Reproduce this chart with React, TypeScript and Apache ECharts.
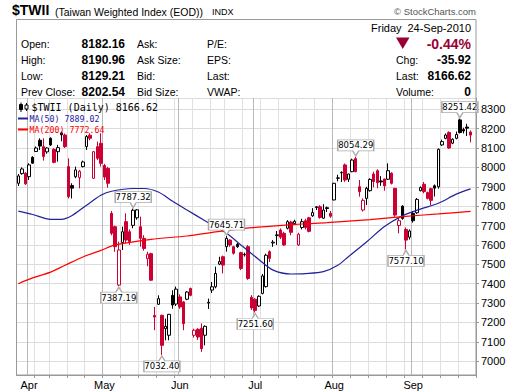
import React, { useEffect, useRef } from "react";
import * as echarts from "echarts";

// ---------- categories (trading days, Taiwan 2010) ----------
const HOLIDAYS = ["2010-04-05", "2010-06-16", "2010-09-22"];
function buildDates(): string[] {
  const out: string[] = [];
  const d = new Date(Date.UTC(2010, 2, 29));
  const end = Date.UTC(2010, 8, 24);
  while (d.getTime() <= end) {
    const wd = d.getUTCDay();
    const s = d.toISOString().slice(0, 10);
    if (wd !== 0 && wd !== 6 && !HOLIDAYS.includes(s)) out.push(s);
    d.setUTCDate(d.getUTCDate() + 1);
  }
  return out;
}
const dates = buildDates();
const categories = [...dates, ""];
const MONTHS = ["Jan", "Feb", "Mar", "Apr", "May", "Jun", "Jul", "Aug", "Sep", "Oct", "Nov", "Dec"];

// ---------- OHLC ----------
const opens = [
  7918, 7968, 7970, 7952, 8052, 8082, 8140, 8107, 8080, 8150, 8093, 8081, 8178, 8167, 8004, 7906, 7952, 7947, 8004, 8107,
  8166, 7944, 8107, 8124, 8010, 7995, 7763, 7694, 7393, 7612, 7720, 7668, 7701, 7740, 7694, 7634, 7529, 7555, 7236, 7294,
  7237, 7168, 7134, 7340, 7295, 7332, 7306, 7320, 7375, 7134, 7165, 7170, 7134, 7300, 7367, 7384, 7501, 7539, 7591, 7625,
  7591, 7603, 7560, 7549, 7591, 7330, 7320, 7285, 7350, 7385, 7565, 7610, 7648, 7677, 7660, 7686, 7718, 7710, 7600, 7690,
  7725, 7740, 7750, 7793, 7797, 7738, 7792, 7763, 7832, 7944, 7972, 8013, 7939, 7978, 8045, 7900, 7780, 7840, 7880, 7966,
  7983, 7930, 7940, 7939, 7970, 7892, 7700, 7800, 7680, 7640, 7763, 7766, 7880, 7913, 7870, 7890, 7905, 7900, 8116, 8150,
  8180, 8125, 8150, 8245, 8195, 8208, 8182.16,
];
const highs = [
  7966, 8000, 7975, 8021, 8058, 8108, 8150, 8150, 8105, 8155, 8099, 8116, 8185, 8175, 8047, 7918, 8004, 7987, 8035, 8167,
  8176, 8085, 8133, 8176, 8018, 8003, 7775, 7700, 7617, 7694, 7763, 7680, 7787.32, 7785, 7746, 7650, 7565, 7560, 7280, 7340,
  7240, 7220, 7244, 7366, 7385, 7345, 7310, 7362, 7380, 7168, 7170, 7195, 7185, 7323, 7409, 7488, 7539, 7545, 7645.71, 7630,
  7595, 7610, 7565, 7560, 7600, 7341, 7325, 7340, 7450, 7555, 7572, 7625, 7672, 7685, 7668, 7728, 7725, 7730, 7663, 7735,
  7735, 7745, 7790, 7800, 7805, 7810, 7798, 7775, 7920, 7962, 7980, 8020, 7968, 8045, 8054.29, 7935, 7840, 7900, 7944, 7978,
  7990, 7955, 7942, 8021, 7975, 7895, 7740, 7805, 7690, 7680, 7775, 7842, 7902, 7925, 7875, 7895, 7912, 8098, 8143, 8175,
  8186, 8150, 8185, 8251.42, 8205, 8225, 8190.96,
];
const lows = [
  7904, 7962, 7910, 7935, 8018, 8080, 8090, 8035, 8070, 8110, 8021, 8030, 8135, 8100, 7840, 7840, 7944, 7892, 8000, 8090,
  8140, 7940, 8038, 8004, 7935, 7895, 7650, 7565, 7387.19, 7574, 7608, 7600, 7686, 7730, 7591, 7570, 7490, 7415, 7160, 7290,
  7032.4, 7108, 7108, 7271, 7285, 7270, 7160, 7315, 7335, 7122, 7110, 7048, 7082, 7270, 7352, 7376, 7496, 7453, 7565, 7590,
  7550, 7585, 7470, 7540, 7420, 7265, 7251.6, 7280, 7345, 7380, 7512, 7590, 7600, 7630, 7595, 7680, 7650, 7705, 7595, 7680,
  7680, 7665, 7745, 7780, 7735, 7735, 7770, 7740, 7830, 7928, 7925, 7925, 7925, 7975, 7975, 7849, 7772, 7806, 7875, 7897,
  7892, 7905, 7880, 7935, 7912, 7745, 7660, 7730, 7577.1, 7628, 7715, 7760, 7876, 7866, 7835, 7805, 7850, 7890, 8110, 8145,
  8095, 8120, 8145, 8175, 8175, 8162, 8129.21,
];
const closes = [
  7956, 7992, 7915, 8013, 8022, 8100, 8110, 8056, 8100, 8116, 8026, 8102, 8168, 8107, 7849, 7893, 7987, 7980, 8028, 8159,
  8150, 8081, 8047, 8021, 7950, 7918, 7660, 7591, 7574, 7668, 7625, 7617, 7779, 7781, 7634, 7582, 7552, 7418, 7228, 7323,
  7082, 7180, 7242, 7290, 7372, 7280, 7194, 7357, 7340, 7160, 7125, 7065, 7180, 7304, 7384, 7453, 7514, 7496, 7634, 7600,
  7557, 7591, 7479, 7551, 7427, 7275, 7262, 7335, 7440, 7547, 7531, 7614, 7652, 7640, 7600, 7720, 7665, 7722, 7655, 7720,
  7690, 7670, 7767, 7797, 7742, 7780, 7788, 7748, 7918, 7946, 7974, 7935, 7966, 8038, 7978, 7875, 7830, 7892, 7938, 7927,
  7921, 7925, 7905, 7983, 7918, 7754, 7725, 7737, 7625, 7672, 7725, 7835, 7896, 7875, 7840, 7830, 7893, 8093, 8133, 8167,
  8100, 8145, 8170, 8180, 8188, 8202.54, 8166.62,
];

// moving averages read at sample days: [day index, value]
const ma50Points: [number, number][] = [
  [0, 7774], [4, 7757], [9, 7732], [12, 7732], [15, 7752], [19, 7805], [23, 7856], [26, 7877], [32, 7891], [35, 7891],
  [39, 7873], [43, 7825], [47, 7780], [52, 7725], [58, 7660], [62, 7600], [67, 7525], [71, 7470], [76, 7450], [80, 7452],
  [85, 7462], [89, 7495], [92, 7540], [97, 7615], [102, 7695], [107, 7750], [112, 7785], [117, 7815], [122, 7862], [126, 7889.02],
];
const ma200Points: [number, number][] = [
  [0, 7400], [4, 7430], [9, 7460], [13, 7495], [18, 7538], [23, 7572], [27, 7600], [37, 7629], [47, 7646], [55, 7667],
  [63, 7685], [68, 7693], [79, 7708], [86, 7715], [98, 7731], [107, 7746], [117, 7760], [126, 7772.64],
];

const highMarks = [
  { i: 32, v: 7787.32 }, { i: 58, v: 7645.71 }, { i: 94, v: 8054.29 }, { i: 123, v: 8251.42 },
];
const lowMarks = [
  { i: 28, v: 7387.19 }, { i: 40, v: 7032.4 }, { i: 66, v: 7251.6 }, { i: 108, v: 7577.1 },
];

const yTicks = [7000, 7100, 7200, 7300, 7400, 7500, 7600, 7700, 7800, 7900, 8000, 8100, 8200, 8300];

const RED = "#cc0033";
const BLACK = "#000000";
const DARK_RED = "#990033";
const MA50_COLOR = "#22229a";
const MA200_COLOR = "#ff0000";
const SANS = "Liberation Sans, Arial, sans-serif";
const MONO = "DejaVu Sans Mono, monospace";

const isMonthStart = (i: number) =>
  i > 0 && i < dates.length && dates[i].slice(5, 7) !== dates[i - 1].slice(5, 7);
const weekday = (s: string) => new Date(s + "T00:00:00Z").getUTCDay();
const isWeekStart = (i: number) =>
  i > 0 && i < dates.length && weekday(dates[i]) < weekday(dates[i - 1]);

function sparse(points: [number, number][]): (number | null)[] {
  const arr: (number | null)[] = dates.map(() => null);
  points.forEach(([i, v]) => (arr[i] = v));
  return arr;
}

const HIGH_PATH = "path://M0,0L36,0L36,11L21,11L18,16L15,11L0,11Z";
const LOW_PATH = "path://M0,5L15,5L18,0L21,5L36,5L36,16L0,16Z";

function txt(text: string, x: number, y: number, opts: any = {}) {
  return {
    type: "text",
    x,
    y,
    silent: true,
    z: 50,
    style: {
      text,
      fill: opts.fill || "#000",
      fontSize: opts.fontSize || 10.5,
      fontFamily: opts.fontFamily || SANS,
      fontWeight: opts.fontWeight || "normal",
      align: opts.align || "left",
      verticalAlign: "middle",
    },
  };
}

export default function App() {
  const ref = useRef<HTMLDivElement>(null);
  useEffect(() => {
    if (!ref.current) return;
    const chart = echarts.init(ref.current, null, { renderer: "svg" });

    const candleData = dates.map((_, i) => {
      const o = opens[i];
      const c = closes[i];
      const prev = i > 0 ? closes[i - 1] : o;
      const col = c < prev ? RED : BLACK;
      const hollow = c > o;
      const fill = hollow ? "#ffffff" : col;
      return {
        value: [o, c, lows[i], highs[i]],
        itemStyle: { color: fill, color0: fill, borderColor: col, borderColor0: col, borderWidth: 1 },
      };
    });

    const markData: any[] = [
      ...highMarks.map((m) => ({
        coord: [categories[m.i], m.v],
        value: m.v,
        symbol: HIGH_PATH,
        symbolSize: [36, 16],
        symbolOffset: [0, -9],
        label: { offset: [0, -2.5] },
      })),
      ...lowMarks.map((m) => ({
        coord: [categories[m.i], m.v],
        value: m.v,
        symbol: LOW_PATH,
        symbolSize: [36, 16],
        symbolOffset: [0, 9],
        label: { offset: [0, 2.5] },
      })),
    ];

    const header: any[] = [
      txt("$TWII", 12, 10, { fontSize: 14, fontWeight: "bold" }),
      txt("(Taiwan Weighted Index (EOD))", 55, 11.5, { fontSize: 10.5 }),
      txt("INDX", 212, 11.5, { fontSize: 9 }),
      txt("\u00a9 StockCharts.com", 476, 11.5, { fontSize: 9.5, fill: "#555", align: "right" }),
      txt("Friday", 371, 28, { fontSize: 11 }),
      txt("24-Sep-2010", 471, 28, { fontSize: 11, align: "right" }),
      {
        type: "polygon",
        silent: true,
        z: 50,
        shape: { points: [[396, 37.5], [409.5, 37.5], [402.75, 49]] },
        style: { fill: DARK_RED },
      },
      txt("-0.44%", 471, 43.5, { fontSize: 14, fontWeight: "bold", fill: DARK_RED, align: "right" }),
      txt("Open:", 21, 43.5),
      txt("High:", 21, 60),
      txt("Low:", 21, 76),
      txt("Prev Close:", 21, 92),
      txt("8182.16", 125, 43.5, { fontSize: 12, fontWeight: "bold", align: "right" }),
      txt("8190.96", 125, 60, { fontSize: 12, fontWeight: "bold", align: "right" }),
      txt("8129.21", 125, 76, { fontSize: 12, fontWeight: "bold", align: "right" }),
      txt("8202.54", 125, 92, { fontSize: 12, fontWeight: "bold", align: "right" }),
      txt("Ask:", 137, 43.5),
      txt("Ask Size:", 137, 60),
      txt("Bid:", 137, 76),
      txt("Bid Size:", 137, 92),
      txt("P/E:", 207, 43.5),
      txt("EPS:", 207, 60),
      txt("Last:", 207, 76),
      txt("VWAP:", 207, 92),
      txt("Chg:", 396, 60),
      txt("Last:", 396, 76),
      txt("Volume:", 396, 92),
      txt("-35.92", 471, 60, { fontSize: 12, fontWeight: "bold", align: "right" }),
      txt("8166.62", 471, 76, { fontSize: 12, fontWeight: "bold", align: "right" }),
      txt("0", 471, 92, { fontSize: 12, fontWeight: "bold", align: "right" }),
      // legend
      { type: "line", silent: true, z: 50, shape: { x1: 21, y1: 102.5, x2: 21, y2: 112 }, style: { stroke: "#000", lineWidth: 1 } },
      { type: "rect", silent: true, z: 50, shape: { x: 19.5, y: 104.5, width: 3, height: 5 }, style: { fill: "#000", stroke: "#000", lineWidth: 1 } },
      { type: "line", silent: true, z: 50, shape: { x1: 26.5, y1: 103, x2: 26.5, y2: 111 }, style: { stroke: "#000", lineWidth: 1 } },
      { type: "rect", silent: true, z: 51, shape: { x: 25, y: 105, width: 3, height: 4 }, style: { fill: "#fff", stroke: "#000", lineWidth: 1 } },
      txt("$TWII (Daily) 8166.62", 31.5, 107.5, { fontFamily: MONO, fontSize: 10 }),
      { type: "line", silent: true, z: 50, shape: { x1: 18, y1: 118.5, x2: 28, y2: 118.5 }, style: { stroke: MA50_COLOR, lineWidth: 2 } },
      txt("MA(50) 7889.02", 29.5, 118.5, { fontFamily: MONO, fontSize: 8.3, fill: MA50_COLOR }),
      { type: "line", silent: true, z: 50, shape: { x1: 18, y1: 129.5, x2: 28, y2: 129.5 }, style: { stroke: MA200_COLOR, lineWidth: 2 } },
      txt("MA(200) 7772.64", 29.5, 129.5, { fontFamily: MONO, fontSize: 8.3, fill: MA200_COLOR }),
      // frame
      {
        type: "rect",
        silent: true,
        z: 60,
        shape: { x: 16.5, y: 19.5, width: 459.5, height: 355.5 },
        style: { fill: "none", stroke: "#999", lineWidth: 1 },
      },
    ];

    chart.setOption({
      animation: false,
      backgroundColor: "#ffffff",
      grid: { left: 16.5, right: 44, top: 98, bottom: 16 },
      xAxis: [
        {
          type: "category",
          data: categories,
          boundaryGap: true,
          axisLine: { show: true, lineStyle: { color: "#999" } },
          axisTick: { show: true, interval: (i: number) => isWeekStart(i), length: 3, lineStyle: { color: "#999" } },
          axisLabel: {
            interval: (i: number) => isMonthStart(i),
            formatter: (v: string) => (v ? MONTHS[parseInt(v.slice(5, 7), 10) - 1] : ""),
            color: "#000",
            fontSize: 11,
            fontFamily: SANS,
            margin: 4,
          },
          splitLine: { show: true, interval: (i: number) => isWeekStart(i), lineStyle: { color: "#e0e0e0", width: 1 } },
        },
        {
          type: "category",
          data: categories,
          boundaryGap: true,
          axisLine: { show: false },
          axisTick: { show: false },
          axisLabel: { show: false },
          splitLine: { show: true, interval: (i: number) => isMonthStart(i), lineStyle: { color: "#b8b8b8", width: 1 } },
        },
      ],
      yAxis: {
        type: "value",
        position: "right",
        min: 6929,
        max: 8358,
        splitNumber: 14,
        scale: true,
        axisLine: { show: true, lineStyle: { color: "#999" } },
        axisTick: { show: true, length: 3, lineStyle: { color: "#999" } },
        axisLabel: {
          showMinLabel: false,
          showMaxLabel: false,
          color: "#000",
          fontSize: 11,
          fontFamily: SANS,
          margin: 5,
          formatter: (v: number) => (yTicks.includes(Math.round(v)) && Math.abs(v - Math.round(v)) < 1e-6 ? String(v) : ""),
        },
        splitLine: { show: true, lineStyle: { color: "#dcdcdc", width: 1 } },
      },
      series: [
        {
          type: "candlestick",
          xAxisIndex: 0,
          data: candleData,
          barWidth: 3,
          z: 2,
          markPoint: {
            z: 10,
            data: markData,
            itemStyle: { color: "#ffffff", borderColor: "#aaaaaa", borderWidth: 1 },
            label: {
              show: true,
              formatter: (p: any) => Number(p.value).toFixed(2),
              color: "#000",
              fontSize: 8.5,
              fontFamily: "DejaVu Sans, sans-serif",
            },
          },
        },
        {
          type: "line",
          name: "MA(50)",
          data: sparse(ma50Points),
          connectNulls: true,
          showSymbol: false,
          symbol: "none",
          smooth: 0.3,
          z: 3,
          lineStyle: { color: MA50_COLOR, width: 1.2 },
        },
        {
          type: "line",
          name: "MA(200)",
          data: sparse(ma200Points),
          connectNulls: true,
          showSymbol: false,
          symbol: "none",
          smooth: 0.3,
          z: 3,
          lineStyle: { color: MA200_COLOR, width: 1.2 },
        },
      ],
      graphic: { elements: header },
    });

    return () => chart.dispose();
  }, []);

  return <div ref={ref} style={{ position: "absolute", left: 0, top: 0, width: 520, height: 391 }} />;
}
